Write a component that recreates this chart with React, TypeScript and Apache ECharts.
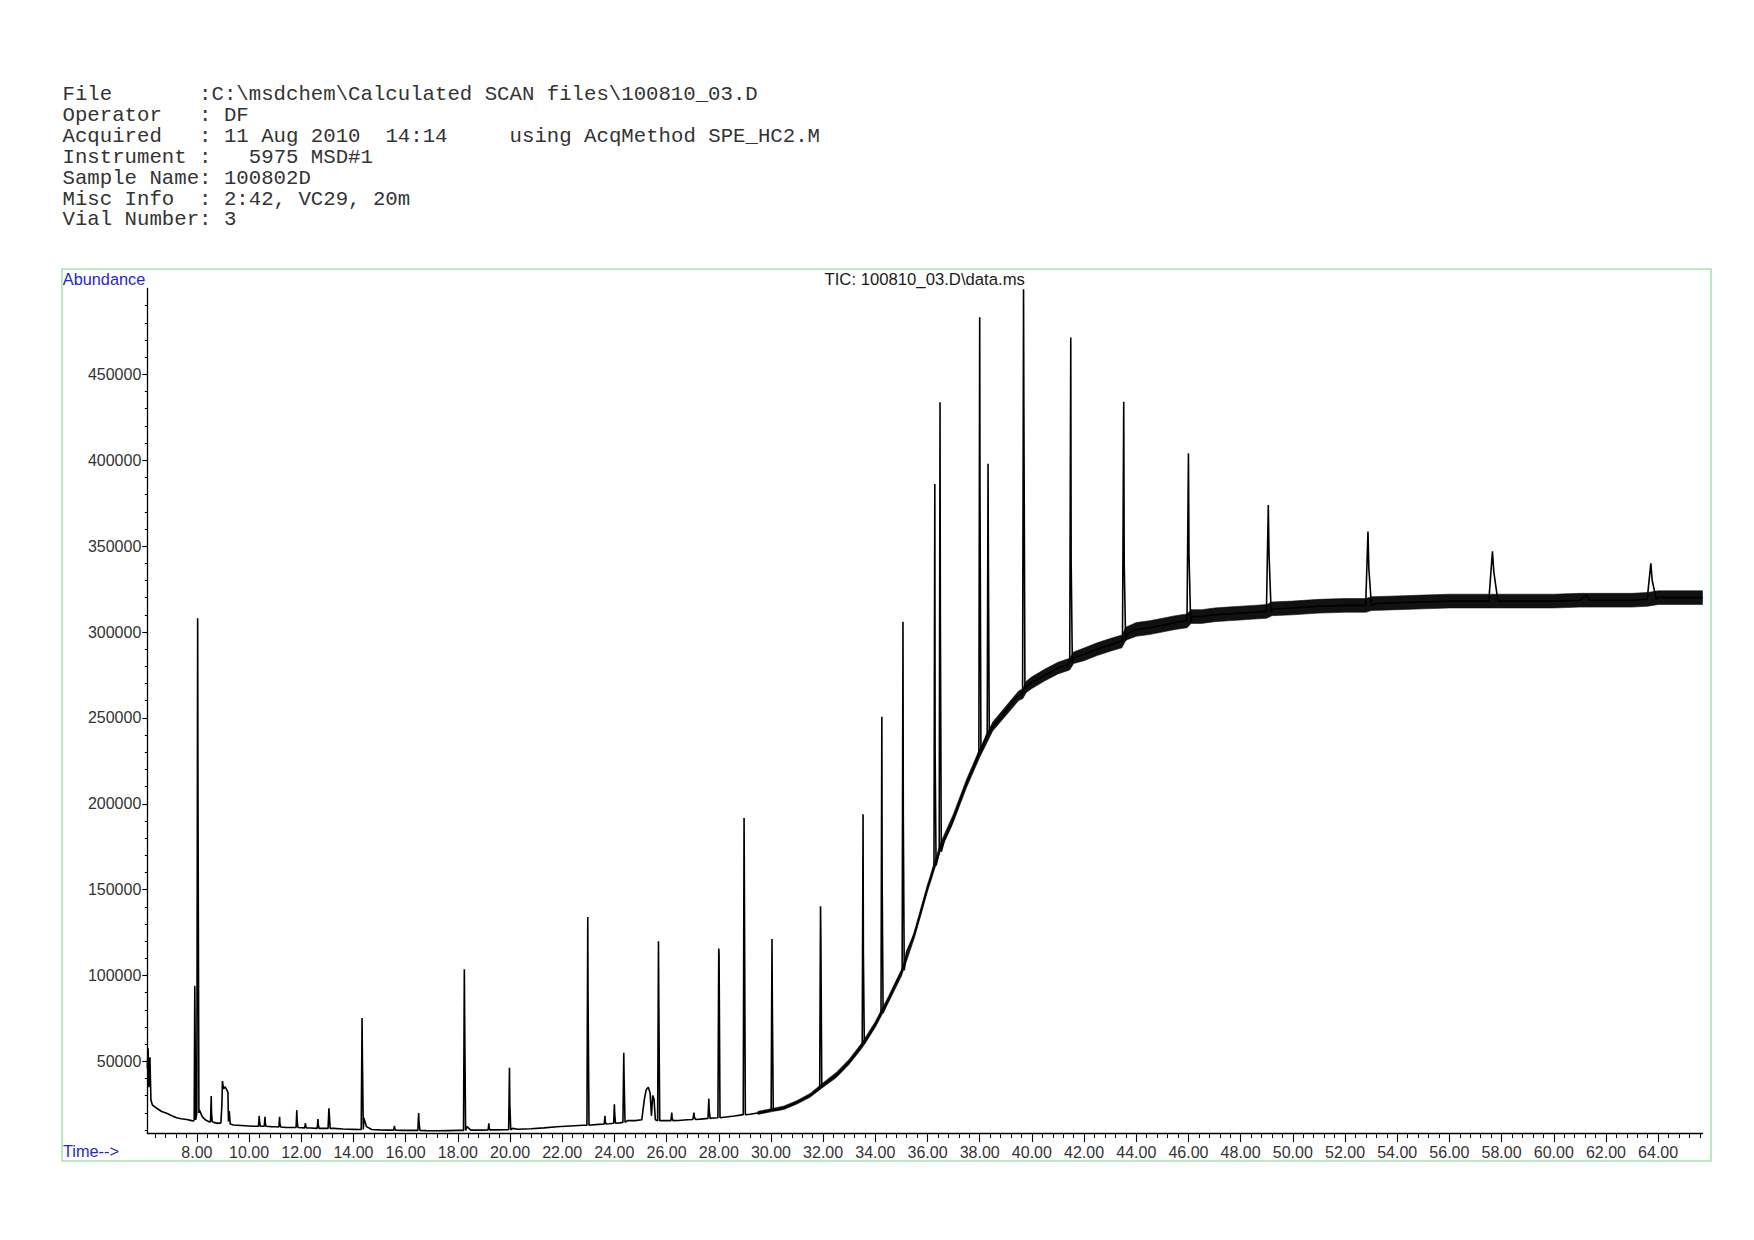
import React, { useEffect, useRef } from "react";
import * as echarts from "echarts";

// ---------- header text ----------
const headerLines: string[] = [
  "File       :C:\\msdchem\\Calculated SCAN files\\100810_03.D",
  "Operator   : DF",
  "Acquired   : 11 Aug 2010  14:14     using AcqMethod SPE_HC2.M",
  "Instrument :   5975 MSD#1",
  "Sample Name: 100802D",
  "Misc Info  : 2:42, VC29, 20m",
  "Vial Number: 3",
];
const chartTitle = "TIC: 100810_03.D\\data.ms";
const yAxisName = "Abundance";
const xAxisName = "Time-->";

// ---------- axes ----------
const timeMin = 6.1;
const timeMax = 65.7;
const abundanceMin = 8300;
const abundanceMax = 500000;
const majorTimeTicks = [8, 10, 12, 14, 16, 18, 20, 22, 24, 26, 28, 30, 32, 34, 36, 38, 40, 42, 44, 46, 48, 50, 52, 54, 56, 58, 60, 62, 64];
const abundanceTicks = [50000, 100000, 150000, 200000, 250000, 300000, 350000, 400000, 450000];

// ---------- baseline of the TIC trace (time in min, abundance) ----------
const baseTimes = [
  6.1, 6.13, 6.16, 6.2, 6.24, 6.3, 6.46, 6.65, 6.84, 7.02, 7.22, 7.4, 7.61, 7.8, 7.87,
  8.1, 8.2, 8.32, 8.45, 8.65, 8.8, 8.92, 8.96, 8.98, 9.02, 9.08, 9.14, 9.19, 9.21, 9.24, 9.28, 9.4, 9.7,
  10.0, 10.2, 10.85, 11.0, 11.4, 11.65, 12.0, 12.35, 12.85, 13.25, 13.6, 14.0, 14.2, 14.4, 14.5, 14.7,
  15.0, 15.3, 15.9, 16.2, 16.8, 17.2, 17.6, 18.0, 18.35, 18.5, 18.9, 19.5, 19.8, 20.1, 20.3, 20.8,
  21.3, 21.8, 22.3, 22.8, 23.1, 23.4, 23.8, 24.2, 24.5, 24.8, 25.05, 25.15, 25.22, 25.3, 25.37, 25.42,
  25.47, 25.52, 25.57, 25.85, 26.0, 26.45, 26.8, 27.3, 27.8, 28.2, 28.6, 29.2, 29.6, 29.9, 30.3, 30.7,
  31.1, 31.5, 31.8, 32.1, 32.5, 32.8, 33.1, 33.4, 33.7, 34.0, 34.5, 34.8, 35.2, 35.5, 35.8, 36.0, 36.15,
  36.65, 36.9, 37.2, 37.55, 37.85, 38.15, 38.5, 38.8, 39.1, 39.4, 39.6, 39.78, 40.0, 40.5, 41.0, 41.35,
  41.6, 42.0, 42.5, 43.0, 43.4, 43.65, 44.0, 44.5, 45.0, 45.5, 45.9, 46.15, 46.5, 47.0, 47.5, 48.0,
  48.5, 48.9, 49.25, 49.5, 50.0, 51.0, 52.0, 52.6, 53.2, 54.0, 55.0, 56.0, 57.0, 57.4, 57.95, 58.5,
  59.0, 60.0, 61.0, 61.25, 61.4, 62.0, 63.0, 63.5, 64.0, 65.0, 65.7,
];
const baseValues = [
  46000, 57700, 35000, 52400, 27400, 24500, 22700, 20800, 19800, 18500, 17200, 16600, 16200, 15500, 15300,
  21600, 18000, 16000, 14900, 14500, 13900, 14200, 25000, 38500, 34000, 35200, 33500, 32000, 15000, 21000, 13500, 13000, 12700,
  12400, 12200, 12000, 11900, 11600, 11500, 11400, 11200, 11000, 11000, 10600, 10400, 10300, 17000, 12000, 10300,
  10100, 10000, 9800, 9800, 9700, 9600, 9700, 9800, 12000, 10000, 10000, 10100, 10200, 11000, 10500, 10800,
  11300, 11900, 12400, 12800, 13000, 13300, 13700, 14200, 15500, 15500, 16000, 28000, 33500, 35000, 31500, 18300,
  30200, 28000, 16000, 15500, 15500, 15600, 16000, 16400, 17000, 17500, 18200, 19200, 20200, 21000, 22000, 24000,
  26800, 30200, 33500, 37500, 42000, 46300, 51500, 57500, 63500, 71500, 86000, 96000, 114000, 124000, 140000, 151000, 158000,
  179000, 187000, 200000, 214000, 224000, 235000, 245000, 250000, 256000, 262000, 264000, 268000, 270500, 275000, 279000, 281000,
  285000, 287000, 290000, 292500, 294500, 299000, 301500, 302500, 304000, 305500, 306500, 309000, 309000, 310000, 310500, 311000,
  311500, 312000, 313500, 313500, 314000, 315000, 315500, 315500, 316500, 317000, 317500, 318000, 318000, 318000, 318000, 318000,
  318000, 318000, 318500, 321500, 318500, 318500, 318500, 319000, 320000, 320000, 320000,
];

// ---------- peaks: apex time, apex, second sample, foot level, base width (min) ----------
const peakTimes = [7.92, 8.03, 8.55, 10.39, 10.61, 11.17, 11.83, 12.16, 12.64, 13.06, 14.33, 15.57, 16.5, 18.25, 19.19, 19.98, 22.98, 23.64, 24.0, 24.36, 25.69, 26.2, 27.05, 27.62, 28.0, 28.97, 30.04, 31.9, 33.53, 34.25, 35.06, 36.28, 36.48, 38.0, 38.32, 39.68, 41.49, 43.52, 46.0, 49.06, 52.88, 57.65, 63.72];
const peakTops = [94000, 308000, 29800, 18300, 17700, 17700, 21600, 14000, 16400, 22700, 75300, 12500, 19900, 103700, 13900, 46300, 134000, 18300, 25000, 55000, 120000, 20200, 20200, 28300, 115700, 191700, 121300, 140300, 193900, 250700, 305900, 386200, 433700, 483200, 397900, 499500, 471500, 434000, 404000, 374000, 358500, 347000, 340000];
const peakShoulders = [74000, 211000, 20000, 15000, 14500, 14000, 16000, 12500, 13500, 20000, 54200, 11000, 15000, 75900, 11500, 25900, 85300, 15000, 20000, 40800, 86300, 17000, 17500, 22000, 112000, 152300, 86300, 124200, 114200, 155200, 194300, 230000, 310700, 381000, 342000, 430000, 341300, 340000, 345000, 346000, 337000, 335000, 330000];
const peakBases = [16000, 20000, 14800, 12300, 12200, 11800, 11500, 11300, 11000, 11000, 10300, 10000, 9800, 9800, 10100, 10200, 12800, 13500, 14000, 14500, 15500, 15500, 16200, 16800, 17200, 19000, 21500, 35000, 60300, 78200, 103000, 164000, 172000, 230000, 241000, 265000, 282000, 295000, 306000, 312000, 315500, 318000, 319000];
const peakWidths = [0.06, 0.08, 0.07, 0.07, 0.07, 0.07, 0.07, 0.07, 0.07, 0.08, 0.08, 0.07, 0.08, 0.08, 0.07, 0.08, 0.08, 0.07, 0.07, 0.08, 0.08, 0.08, 0.1, 0.08, 0.08, 0.08, 0.08, 0.08, 0.08, 0.08, 0.08, 0.08, 0.08, 0.08, 0.08, 0.09, 0.1, 0.12, 0.14, 0.18, 0.22, 0.35, 0.35];

// ---------- detector-noise envelope of the later baseline ----------
const bandTimes = [29.5, 30.0, 30.5, 31.0, 31.5, 32.0, 32.5, 33.0, 33.5, 34.0, 34.5, 35.0, 35.5, 36.0, 36.5, 37.0, 37.5, 38.0, 38.5, 39.0, 39.5, 39.65, 39.78, 40.0, 40.5, 41.0, 41.45, 41.6, 42.0, 42.5, 43.0, 43.45, 43.6, 44.0, 44.5, 45.0, 45.5, 45.95, 46.1, 46.5, 47.0, 47.5, 48.0, 48.5, 49.0, 49.2, 50.0, 51.0, 52.0, 52.8, 53.0, 54.0, 55.0, 56.0, 57.0, 58.0, 59.0, 60.0, 61.0, 62.0, 63.0, 63.6, 64.0, 65.0, 65.7];
const bandLow = [19100, 20600, 22000, 25200, 29100, 35000, 40500, 48300, 57900, 69800, 84200, 99600, 122000, 148900, 172800, 189700, 209600, 227000, 242400, 251300, 260200, 261200, 264700, 267100, 271600, 275600, 277900, 281600, 283300, 286300, 288800, 290800, 295200, 297500, 298500, 300000, 301500, 302500, 305000, 305000, 306000, 306500, 307000, 307500, 308000, 309500, 310000, 311000, 311500, 311500, 312500, 313000, 313500, 314000, 314000, 314000, 314000, 314000, 314500, 314500, 314500, 315000, 316000, 316000, 316000];
const bandHigh = [20900, 22400, 24000, 27200, 31300, 37600, 43500, 51300, 61100, 73200, 87800, 103400, 126000, 153100, 177200, 194300, 214400, 232000, 247600, 256700, 265800, 266800, 271300, 273900, 278400, 282400, 284700, 288400, 290700, 293700, 296200, 298200, 302800, 305500, 306500, 308000, 309500, 310500, 313000, 313000, 314000, 314500, 315000, 315500, 316000, 317500, 318000, 319000, 319500, 319500, 320500, 321000, 321500, 322000, 322000, 322000, 322000, 322000, 322500, 322500, 322500, 323000, 324000, 324000, 324000];

// ---------- helpers ----------
function buildTrace(): [number, number][] {
  const windows = peakTimes.map((t, i) => [t - 0.4 * peakWidths[i], t + 0.6 * peakWidths[i]]);
  const pts: [number, number][] = [];
  baseTimes.forEach((t, i) => {
    if (!windows.some(([a, b]) => t >= a && t <= b)) pts.push([t, baseValues[i]]);
  });
  peakTimes.forEach((t, i) => {
    const w = peakWidths[i];
    pts.push([t - 0.4 * w, peakBases[i]]);
    pts.push([t, peakTops[i]]);
    pts.push([t + 0.15 * w, peakShoulders[i]]);
    pts.push([t + 0.6 * w, peakBases[i]]);
  });
  pts.sort((a, b) => a[0] - b[0]);
  return pts;
}

const minorTimeTicks: number[] = [];
for (let k = 0; k <= 148; k++) minorTimeTicks.push(Math.round((6.4 + 0.4 * k) * 10) / 10);
const minorAbundanceTicks: number[] = [];
for (let v = 10000; v <= 490000; v += 10000) minorAbundanceTicks.push(v);

const MONO = "Liberation Mono";
const SANS = "Liberation Sans";
const BLUE = "#2626d0";
const HEAD_X = 62.5;
const HEAD_Y = 94.5;
const HEAD_STEP = 20.9;
const HEAD_SIZE = 20.7;
const CHAR_W = HEAD_SIZE * 0.6;

function headerElements() {
  const els: any[] = [];
  headerLines.forEach((line, li) => {
    const re = /\S+(?: \S+)*/g;
    let m: RegExpExecArray | null;
    while ((m = re.exec(line)) !== null) {
      els.push({
        type: "text",
        x: HEAD_X + m.index * CHAR_W,
        y: HEAD_Y + li * HEAD_STEP,
        silent: true,
        style: {
          text: m[0],
          fontFamily: MONO,
          fontSize: HEAD_SIZE,
          fill: "#333",
          align: "left",
          verticalAlign: "middle",
        },
      });
    }
  });
  return els;
}

export default function App() {
  const ref = useRef<HTMLDivElement>(null);
  useEffect(() => {
    if (!ref.current) return;
    const chart = echarts.init(ref.current, undefined, { renderer: "svg" });
    const trace = buildTrace();
    const axisLineStyle = { color: "#000", width: 1.3 };
    chart.setOption({
      animation: false,
      backgroundColor: "#fff",
      grid: { left: 147.3, right: 51.5, top: 288.5, bottom: 107 },
      xAxis: [
        {
          type: "value",
          min: timeMin,
          max: timeMax,
          position: "bottom",
          axisLine: { show: true, onZero: false, lineStyle: axisLineStyle },
          axisTick: { show: true, length: 9, customValues: majorTimeTicks, lineStyle: { color: "#000", width: 1.1 } },
          axisLabel: {
            customValues: majorTimeTicks,
            formatter: (v: number) => v.toFixed(2),
            fontFamily: SANS,
            fontSize: 16,
            color: "#333",
            margin: 11,
          },
          splitLine: { show: false },
        },
        {
          type: "value",
          min: timeMin,
          max: timeMax,
          position: "bottom",
          offset: 0,
          axisLine: { show: false, onZero: false },
          axisTick: { show: true, length: 5, customValues: minorTimeTicks, lineStyle: { color: "#000", width: 1 } },
          axisLabel: { show: false },
          splitLine: { show: false },
        },
      ],
      yAxis: [
        {
          type: "value",
          min: abundanceMin,
          max: abundanceMax,
          position: "left",
          axisLine: { show: true, onZero: false, lineStyle: axisLineStyle },
          axisTick: { show: true, length: 5, customValues: abundanceTicks, lineStyle: { color: "#000", width: 1.1 } },
          axisLabel: {
            customValues: abundanceTicks,
            formatter: (v: number) => String(Math.round(v)),
            fontFamily: SANS,
            fontSize: 16,
            color: "#333",
            margin: 6,
          },
          splitLine: { show: false },
        },
        {
          type: "value",
          min: abundanceMin,
          max: abundanceMax,
          position: "left",
          offset: 0,
          axisLine: { show: false, onZero: false },
          axisTick: { show: true, length: 2.5, customValues: minorAbundanceTicks, lineStyle: { color: "#000", width: 1 } },
          axisLabel: { show: false },
          splitLine: { show: false },
        },
      ],
      series: [
        {
          type: "custom",
          name: "noise",
          coordinateSystem: "cartesian2d",
          xAxisIndex: 0,
          yAxisIndex: 0,
          data: [[bandTimes[0], bandLow[0]]],
          encode: { x: 0, y: 1 },
          clip: true,
          silent: true,
          z: 1,
          renderItem: (_params: any, api: any) => {
            const upper = bandTimes.map((t, i) => api.coord([t, bandHigh[i]]));
            const lower = bandTimes.map((t, i) => api.coord([t, bandLow[i]])).reverse();
            return {
              type: "polygon",
              shape: { points: upper.concat(lower) },
              style: { fill: "#111", stroke: "#111", lineWidth: 0.6 },
            };
          },
        },
        {
          type: "line",
          name: "TIC",
          data: trace,
          symbol: "none",
          showSymbol: false,
          lineStyle: { width: 1.6, color: "#000" },
          silent: true,
          z: 2,
        },
      ],
      graphic: [
        {
          type: "rect",
          silent: true,
          z: -10,
          shape: { x: 62, y: 269, width: 1649, height: 892 },
          style: { fill: "none", stroke: "#a3e4ad", lineWidth: 1.5 },
        },
        ...headerElements(),
        {
          type: "text",
          x: 62.8,
          y: 278.5,
          silent: true,
          style: { text: yAxisName, fontFamily: SANS, fontSize: 16.3, fill: BLUE, align: "left", verticalAlign: "middle" },
        },
        {
          type: "text",
          x: 924.7,
          y: 279,
          silent: true,
          style: { text: chartTitle, fontFamily: SANS, fontSize: 16.7, fill: "#1a1a1a", align: "center", verticalAlign: "middle" },
        },
        {
          type: "text",
          x: 63,
          y: 1151,
          silent: true,
          style: { text: xAxisName, fontFamily: SANS, fontSize: 16.3, fill: BLUE, align: "left", verticalAlign: "middle" },
        },
      ],
    });
    return () => chart.dispose();
  }, []);
  return (
    <div
      ref={ref}
      style={{ position: "absolute", left: 0, top: 0, width: 1754, height: 1240, background: "#fff" }}
    />
  );
}
